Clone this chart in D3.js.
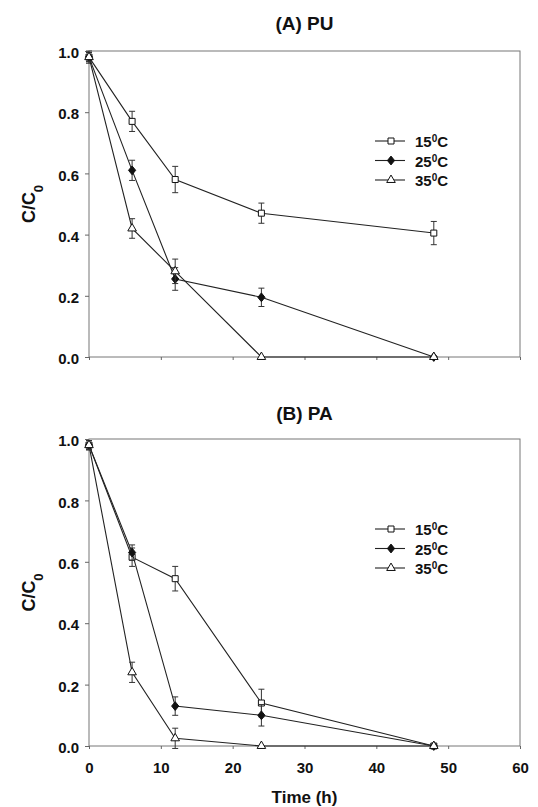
<!DOCTYPE html>
<html>
<head>
<meta charset="utf-8">
<script src="https://cdn.jsdelivr.net/npm/d3@7"></script>
<style>
body{margin:0;background:#fff}
svg text{font-family:"Liberation Sans",Arial,sans-serif;font-weight:bold;fill:#111}
</style>
</head>
<body>
<svg></svg>
<script>
// sampling times (h)
var times = [0, 6, 12, 24, 48]
var temps = ["15", "25", "35"]

// (A) PU
var pu15 = [0.98, 0.77, 0.58, 0.47, 0.405]
var pu15err = [0.02, 0.033, 0.043, 0.033, 0.038]
var pu25 = [0.98, 0.61, 0.255, 0.195, 0.0]
var pu25err = [0.015, 0.033, 0.037, 0.03, 0]
var pu35 = [0.98, 0.42, 0.28, 0.0, 0.0]
var pu35err = [0.015, 0.032, 0.04, 0, 0]

// (B) PA
var pa15 = [0.98, 0.615, 0.545, 0.14, 0.0]
var pa15err = [0.015, 0.03, 0.04, 0.045, 0]
var pa25 = [0.98, 0.63, 0.13, 0.10, 0.0]
var pa25err = [0.015, 0.025, 0.03, 0.035, 0]
var pa35 = [0.98, 0.24, 0.025, 0.0, 0.0]
var pa35err = [0.015, 0.033, 0.033, 0, 0]

var xTicks = [0, 10, 20, 30, 40, 50, 60]
var yTicks = [0, 0.2, 0.4, 0.6, 0.8, 1.0]

var screen = {width: 538, height: 807}
var left = 89, right = 520

var panels = [
    {title: "(A) PU", titleY: 30, top: 51, bottom: 357, xLabels: false,
     series: [[pu15, pu15err], [pu25, pu25err], [pu35, pu35err]]},
    {title: "(B) PA", titleY: 420, top: 439, bottom: 746, xLabels: true,
     series: [[pa15, pa15err], [pa25, pa25err], [pa35, pa35err]]}
]

// rhombus a bit wider than d3's own diamond
var rhombus = {
    draw: function(ctx, size)
    {
        var r = Math.sqrt(size / 2)
        ctx.moveTo(0, -r * 1.1)
        ctx.lineTo(r * 0.9, 0)
        ctx.lineTo(0, r * 1.1)
        ctx.lineTo(-r * 0.9, 0)
        ctx.closePath()
    }
}

var markerType = [d3.symbolSquare, rhombus, d3.symbolTriangle]
var markerSize = [36, 32, 32]
var markerFill = ["#fff", "#111", "#fff"]

var svg = d3.select("svg")
    .attr("width", screen.width)
    .attr("height", screen.height)

var xScale = d3.scaleLinear()
    .domain([0, 60])
    .range([left, right])

var drawPanel = function(p)
{
    var yScale = d3.scaleLinear()
        .domain([0, 1])
        .range([p.bottom, p.top])

    var g = svg.append("g")

    // frame
    g.append("rect")
        .attr("x", left)
        .attr("y", p.top)
        .attr("width", right - left)
        .attr("height", p.bottom - p.top)
        .attr("fill", "none")
        .attr("stroke", "#777")
        .attr("stroke-width", 1)

    var yAxis = d3.axisLeft(yScale)
        .tickValues(yTicks)
        .tickSize(4)
        .tickFormat(d3.format(".1f"))
    var ya = g.append("g")
        .attr("transform", "translate(" + left + ",0)")
        .call(yAxis)
    ya.select(".domain").remove()
    ya.selectAll("line").attr("stroke", "#666")
    ya.selectAll("text")
        .attr("x", -10)
        .attr("dy", "0.45em")
        .style("font-size", "15px")

    var xAxis = d3.axisBottom(xScale)
        .tickValues(xTicks)
        .tickSize(3)
        .tickFormat(p.xLabels ? d3.format("d") : "")
    var xa = g.append("g")
        .attr("transform", "translate(0," + p.bottom + ")")
        .call(xAxis)
    xa.select(".domain").remove()
    xa.selectAll("line").attr("stroke", "#666")
    xa.selectAll("text")
        .attr("y", 16)
        .style("font-size", "15px")

    g.append("text")
        .attr("x", (left + right) / 2)
        .attr("y", p.titleY)
        .attr("text-anchor", "middle")
        .style("font-size", "19px")
        .text(p.title)

    var yl = g.append("text")
        .attr("transform", "translate(35," + ((p.top + p.bottom) / 2) + ") rotate(-90)")
        .attr("text-anchor", "middle")
        .style("font-size", "18px")
    yl.append("tspan").text("C/C")
    yl.append("tspan").attr("baseline-shift", "sub").style("font-size", "13px").text("0")

    var line = d3.line()
        .x(function(d){return xScale(d.t)})
        .y(function(d){return yScale(d.v)})

    p.series.forEach(function(s, i)
    {
        var pts = times.map(function(t, j){return {t: t, v: s[0][j], e: s[1][j]}})

        g.append("path")
            .datum(pts)
            .attr("d", line)
            .attr("fill", "none")
            .attr("stroke", "#222")
            .attr("stroke-width", 1.1)

        var bars = pts.filter(function(d){return d.e > 0})
        var eb = g.selectAll(".eb" + i)
            .data(bars)
            .enter()
            .append("g")
            .attr("stroke", "#333")
            .attr("stroke-width", 1)
        eb.append("line")
            .attr("x1", function(d){return xScale(d.t)})
            .attr("x2", function(d){return xScale(d.t)})
            .attr("y1", function(d){return yScale(d.v - d.e)})
            .attr("y2", function(d){return yScale(d.v + d.e)})
        eb.append("line")
            .attr("x1", function(d){return xScale(d.t) - 3})
            .attr("x2", function(d){return xScale(d.t) + 3})
            .attr("y1", function(d){return yScale(d.v + d.e)})
            .attr("y2", function(d){return yScale(d.v + d.e)})
        eb.append("line")
            .attr("x1", function(d){return xScale(d.t) - 3})
            .attr("x2", function(d){return xScale(d.t) + 3})
            .attr("y1", function(d){return yScale(d.v - d.e)})
            .attr("y2", function(d){return yScale(d.v - d.e)})

        g.selectAll(".mk" + i)
            .data(pts)
            .enter()
            .append("path")
            .attr("d", d3.symbol().type(markerType[i]).size(markerSize[i]))
            .attr("transform", function(d){return "translate(" + xScale(d.t) + "," + yScale(d.v) + ")"})
            .attr("fill", markerFill[i])
            .attr("stroke", "#111")
            .attr("stroke-width", 1)
    })

    // legend
    var lg = g.append("g")
        .attr("transform", "translate(375," + (p.top + 90) + ")")
    temps.forEach(function(t, i)
    {
        var row = lg.append("g").attr("transform", "translate(0," + (i * 19.5) + ")")
        row.append("line")
            .attr("x1", 0).attr("x2", 30)
            .attr("stroke", "#222")
            .attr("stroke-width", 1.1)
        row.append("path")
            .attr("d", d3.symbol().type(markerType[i]).size(markerSize[i]))
            .attr("transform", "translate(16,0)")
            .attr("fill", markerFill[i])
            .attr("stroke", "#111")
        var tx = row.append("text")
            .attr("x", 40)
            .attr("dy", "0.4em")
            .style("font-size", "15px")
        tx.append("tspan").text(t)
        tx.append("tspan").attr("baseline-shift", "super").style("font-size", "10px").text("0")
        tx.append("tspan").text("C")
    })
}

panels.forEach(drawPanel)

svg.append("text")
    .attr("x", (left + right) / 2)
    .attr("y", 803)
    .attr("text-anchor", "middle")
    .style("font-size", "17px")
    .text("Time (h)")
</script>
</body>
</html>
